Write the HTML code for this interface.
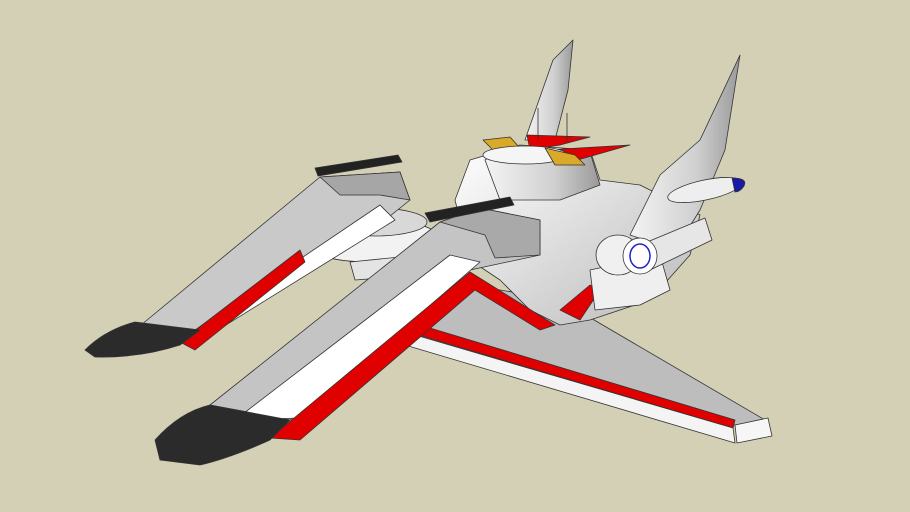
<!DOCTYPE html>
<html><head><style>
html,body{margin:0;padding:0;background:#d3d0b6;}
svg{display:block}
</style></head><body>
<svg width="910" height="512" viewBox="0 0 910 512" xmlns="http://www.w3.org/2000/svg">
<defs>
<linearGradient id="g1" x1="0" y1="0" x2="1" y2="0"><stop offset="0" stop-color="#f4f4f4"/><stop offset="0.6" stop-color="#d0d0d0"/><stop offset="1" stop-color="#9a9a9a"/></linearGradient>
<linearGradient id="g2" x1="0" y1="0" x2="1" y2="1"><stop offset="0" stop-color="#ffffff"/><stop offset="1" stop-color="#b8b8b8"/></linearGradient>
</defs>
<rect width="910" height="512" fill="#d3d0b6"/>
<g stroke="#333" stroke-width="0.8" stroke-linejoin="round">
<polygon points="525,140 553,60 573,40 568,90 555,140" fill="url(#g1)"/>
<polygon points="470,285 560,300 765,420 735,425 410,328" fill="#bdbdbd"/>
<polygon points="410,322 735,420 733,428 408,332" fill="#e00000"/>
<polygon points="405,332 733,428 735,443 405,345" fill="#f4f4f4"/>
<polygon points="735,425 768,418 772,436 737,443" fill="#f6f6f6"/>
<polygon points="455,200 470,160 520,145 590,150 600,180 640,185 700,215 690,255 650,300 590,320 560,325 530,310 500,280 470,260" fill="url(#g2)"/>
<polygon points="485,160 500,150 540,150 590,152 600,185 560,200 500,200" fill="url(#g1)"/>
<polygon points="560,310 590,285 600,290 580,320" fill="#e00000"/>
<polygon points="590,270 660,255 670,290 640,305 595,310" fill="#efefef"/>
<polygon points="630,235 660,175 700,140 740,55 725,150 700,210 675,250" fill="url(#g1)"/>
<ellipse cx="705" cy="190" rx="38" ry="10" fill="#eee" transform="rotate(-12 705 190)"/>
<path d="M732,178 Q748,178 744,186 Q740,192 735,192 Z" fill="#1a1aa8"/>
<polygon points="640,245 705,218 712,240 650,270" fill="#e6e6e6"/>
<ellipse cx="618" cy="255" rx="22" ry="20" fill="#f0f0f0"/>
<ellipse cx="640" cy="256" rx="17" ry="18" fill="#fff"/>
<ellipse cx="640" cy="256" rx="10" ry="12" fill="none" stroke="#2222cc" stroke-width="1.5"/>
<polygon points="527,135 590,137 560,145 530,150" fill="#e00000"/>
<polygon points="545,150 630,145 560,165" fill="#e00000"/>
<polygon points="483,140 510,137 520,148 495,152" fill="#d9a92a"/>
<ellipse cx="525" cy="155" rx="42" ry="9" fill="#f5f5f5"/>
<polygon points="545,148 575,155 585,165 555,165" fill="#d9a92a"/>
<line x1="538" y1="108" x2="538" y2="140"/><line x1="567" y1="113" x2="567" y2="142"/>
<ellipse cx="370" cy="240" rx="70" ry="22" fill="#f2f2f2"/>
<ellipse cx="375" cy="222" rx="52" ry="14" fill="#d8d8d8"/>
<polygon points="300,230 340,225 340,245 305,248" fill="#eee"/>
<polygon points="350,262 420,255 420,275 355,280" fill="#e4e4e4"/>
<!-- back pod -->
<polygon points="135,330 320,177 400,172 410,200 360,240 200,330" fill="#c9c9c9"/>
<polygon points="320,177 400,172 410,200 380,195 340,195" fill="#a6a6a6"/>
<polygon points="195,330 380,205 395,220 205,338" fill="#ffffff"/>
<polygon points="180,342 300,250 305,262 195,350" fill="#e00000"/>
<path d="M85,350 Q105,330 135,322 L200,330 L180,345 Q140,358 95,357 Z" fill="#2b2b2b"/>
<polygon points="315,168 398,155 402,162 318,176" fill="#222"/>
<!-- front pod -->
<polygon points="210,405 440,222 480,208 540,220 540,255 470,270 290,420" fill="#c4c4c4"/>
<polygon points="440,222 480,208 540,220 540,255 495,258 485,235" fill="#a9a9a9"/>
<polygon points="235,420 450,255 480,262 300,418" fill="#ffffff"/>
<polygon points="270,438 470,272 555,325 540,330 475,290 300,440" fill="#e00000"/>
<path d="M155,440 Q180,412 210,405 L290,420 L270,440 Q230,458 200,465 L160,460 Z" fill="#2b2b2b"/>
<polygon points="425,213 510,197 514,205 430,222" fill="#222"/>
</g>
</svg>
</body></html>
